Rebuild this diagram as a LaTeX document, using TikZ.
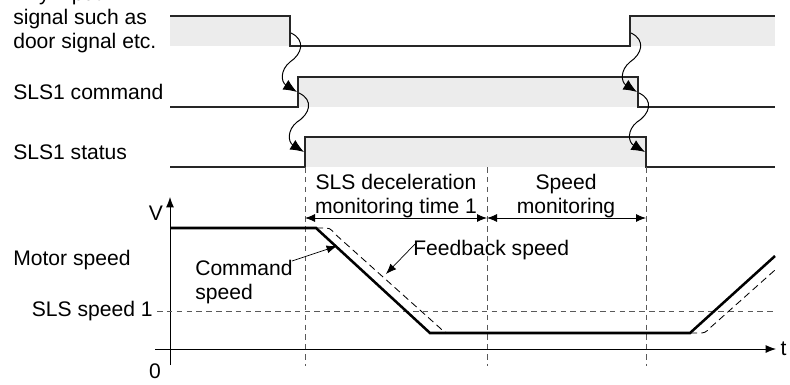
\documentclass[tikz,border=0pt]{standalone}
\usepackage{fontspec}
\setmainfont{Liberation Sans}
\usetikzlibrary{arrows.meta,positioning}

\begin{document}
\begin{tikzpicture}[
  x=0.025cm, y=-0.025cm,
  lbl/.style={font=\fontsize{15}{17}\selectfont, inner sep=0pt},
  level/.style={draw=black!85, line width=0.9pt},
  hifill/.style={fill=gray!15},
  guide/.style={draw=black!65, dash pattern=on 4pt off 3pt, line width=0.6pt},
  dim/.style={{Latex[length=2.5mm,width=2mm]}-{Latex[length=2.5mm,width=2mm]}, line width=0.6pt},
  cause/.style={-{Latex[length=3.4mm,width=2.8mm]}, line width=0.7pt},
  cmdspeed/.style={line width=1.8pt},
  fbspeed/.style={dash pattern=on 5pt off 3pt, line width=0.6pt},
  pointer/.style={-{Latex[length=2.6mm,width=2mm]}, line width=0.5pt}
]
  \useasboundingbox (0,0) rectangle (790,384);

  % Signal labels
  \node[lbl, anchor=west, align=left] (doorlbl) at (13,19) {Any input\\signal such as\\door signal etc.};
  \node[lbl, anchor=west] (cmdlbl) at (13,92) {SLS1 command};
  \node[lbl, anchor=west] (statlbl) at (13,152) {SLS1 status};
  \node[lbl, anchor=west] (motorlbl) at (13,260) {Motor speed};

  % Grey high levels
  \fill[hifill] (170,16) rectangle (290,46);
  \fill[hifill] (630,16) rectangle (775,46);
  \fill[hifill] (298,77) rectangle (638,107);
  \fill[hifill] (305,137) rectangle (646,167);

  % Waveforms
  \draw[level] (170,16) -- (290,16) -- (290,46) -- (630,46) -- (630,16) -- (775,16);
  \draw[level] (170,107) -- (298,107) -- (298,77) -- (638,77) -- (638,107) -- (775,107);
  \draw[level] (170,167) -- (305,167) -- (305,137) -- (646,137) -- (646,167) -- (775,167);

  % Cause-effect arrows
  \coordinate (doorfall) at (291,33);
  \coordinate (cmdrise) at (297,92);
  \coordinate (cmdrise2) at (299,93);
  \coordinate (statrise) at (304,152);
  \coordinate (doorrise) at (631,33);
  \coordinate (cmdfall) at (637,92);
  \coordinate (cmdfall2) at (639,93);
  \coordinate (statfall) at (645,152);
  \draw[cause] (doorfall) .. controls (306,40) and (302,54) .. (290,62) .. controls (280,70) and (281,82) .. (cmdrise);
  \draw[cause] (cmdrise2) .. controls (314,100) and (310,114) .. (297,122) .. controls (287,130) and (288,142) .. (statrise);
  \draw[cause] (doorrise) .. controls (646,40) and (642,54) .. (630,62) .. controls (620,70) and (621,82) .. (cmdfall);
  \draw[cause] (cmdfall2) .. controls (654,100) and (650,114) .. (637,122) .. controls (627,130) and (628,142) .. (statfall);

  % Monitoring intervals
  \draw[guide] (305,167) -- (305,366);
  \draw[guide] (487,167) -- (487,366);
  \draw[guide] (646,167) -- (646,366);
  \draw[dim] (305,218) -- (487,218);
  \draw[dim] (487,218) -- (646,218);
  \node[lbl, align=center] (declbl) at (396,196) {SLS deceleration\\monitoring time 1};
  \node[lbl, align=center] (spdlbl) at (566,196) {Speed\\monitoring};

  % Axes
  \coordinate (origin) at (170,349);
  \draw[line width=0.6pt, -{Latex[length=2.6mm,width=2mm]}] (170,365) -- (170,197) coordinate (vtop);
  \draw[line width=0.6pt, -{Latex[length=2.6mm,width=2mm]}] (155,349) -- (776,349) coordinate (tend);
  \node[lbl] (vlbl) at (156,213) {V};
  \node[lbl, right=3pt of tend] (tlbl) {t};
  \node[lbl] (zerolbl) at (155,371) {0};

  % SLS speed 1
  \draw[guide] (157,311) -- (775,311);
  \node[lbl, anchor=east] (slslbl) at (153,311) {SLS speed 1};

  % Speeds
  \draw[cmdspeed] (170,228) -- (316,228) -- (430,333) -- (690,333) -- (775,256);
  \draw[fbspeed] (316,228) -- (322,228) .. controls (330,228) .. (335,234) -- (440,328) .. controls (445,333) .. (456,333);
  \draw[fbspeed] (690,333) -- (698,333) .. controls (705,333) .. (711,327) -- (775,270);

  \node[lbl, anchor=west, align=left] (cmdspdlbl) at (195,282) {Command\\speed};
  \node[lbl, anchor=west] (fbspdlbl) at (413,250) {Feedback speed};
  \draw[pointer] (292,261) -- (337,246);
  \draw[pointer] (fbspdlbl.west) ++(2,-6) -- (386,274);
\end{tikzpicture}
\end{document}
